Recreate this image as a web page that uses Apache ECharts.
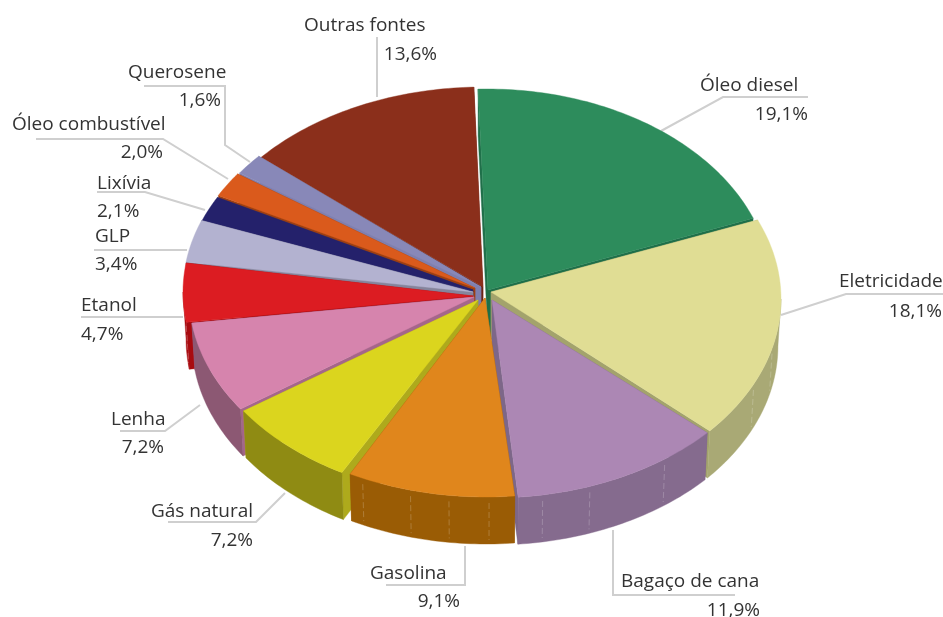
<!DOCTYPE html>
<html lang="pt">
<head>
<meta charset="utf-8">
<script src="https://cdn.jsdelivr.net/npm/echarts@6/dist/echarts.min.js"></script>
<style>html,body{margin:0;background:#fff}#chart{width:943px;height:617px}</style>
</head>
<body>
<div id="chart"></div>
<script>
// Matriz energética: fatia por fonte, em sentido horário a partir do topo
const sources = ['Óleo diesel', 'Eletricidade', 'Bagaço de cana', 'Gasolina', 'Gás natural', 'Lenha',
  'Etanol', 'GLP', 'Lixívia', 'Óleo combustível', 'Querosene', 'Outras fontes'];
const shares = [19.1, 18.1, 11.9, 9.1, 7.2, 7.2, 4.7, 3.4, 2.1, 2.0, 1.6, 13.6];

const topColors = ['#2d8c5c', '#e0dd94', '#ac87b4', '#e0861c', '#dbd51e', '#d684ad',
  '#dc1c22', '#b3b2d0', '#24216b', '#da5a1c', '#8888b8', '#8b2f1b'];
const wallColors = ['#1f6642', '#a9a975', '#856b8e', '#9a5c05', '#8f8b13', '#8c5873',
  '#a80b10', '#85849c', '#16144a', '#9c3f12', '#5f5f86', '#5f1f10'];
const cutColors = ['#1f6f49', '#a3a36c', '#7d6788', '#9a5c05', '#aeaa1c', '#a5668a',
  '#a80b10', '#85849c', '#2a2870', '#9c3f12', '#7f7fae', '#6b2414'];

// Geometria de cada fatia: deslocamento do contorno, ponta e correção angular da perspectiva
const rimShift = [[3, -3], [7, 6], [8, 4], [2, 3], [0, 4], [-3, 2], [-9, -1], [-9, -2], [-9, -1], [-8, -3], [-6, -4], [-1, -5]];
const tips = [[488, 290], [491, 292], [492, 300], [485, 298], [478, 300], [474, 297],
  [473, 296], [473, 292], [473, 290], [475, 288], [481, 287], [483, 287]];
const twist = [[-1.8, 0.3], [-1.9, -2.9], [-1.4, -1.9], [-2.4, -1.8], [-0.4, 0], [0, 0.6],
  [0, 0], [0, 0], [0, 0], [0, 0], [0, 0.3], [-0.5, -1.8]];
const radiusX = [285, 290, 292, 292, 292, 292, 292, 292, 292, 292, 292, 292];

const pie = { cx: 484, cy: 293, ry: 201, depth: 47, taper: 0.065 };

// Emendas claras na parede lateral (graus no contorno)
const wallSeams = [104, 115, 143.7, 160.4, 170, 179.4, 187.3, 195, 205, 262];

// Posição de nome, valor e linha de chamada de cada rótulo
const labels = [
  { name: [700, 86, 'left'], value: [808, 115, 'right'], line: [[661, 131], [723, 97], [808, 97]] },
  { name: [839, 282, 'left'], value: [942, 312, 'right'], line: [[781, 315], [846, 294], [943, 294]] },
  { name: [621, 582, 'left'], value: [760, 611, 'right'], line: [[613, 530], [613, 595], [735, 595]] },
  { name: [370, 574, 'left'], value: [460, 602, 'right'], line: [[465, 546], [465, 585], [386, 585]] },
  { name: [151, 512, 'left'], value: [253, 541, 'right'], line: [[285, 493], [256, 522], [168, 522]] },
  { name: [111, 420, 'left'], value: [164, 448, 'right'], line: [[200, 405], [165, 431], [120, 431]] },
  { name: [81, 306, 'left'], value: [81, 335, 'left'], line: [[183, 317], [81, 317]] },
  { name: [95, 237, 'left'], value: [95, 265, 'left'], line: [[187, 250], [94, 250]] },
  { name: [97, 184, 'left'], value: [97, 212, 'left'], line: [[205, 210], [145, 192], [97, 192]] },
  { name: [12, 125, 'left'], value: [163, 153, 'right'], line: [[228, 179], [163, 139], [36, 139]] },
  { name: [128, 73, 'left'], value: [221, 101, 'right'], line: [[250, 162], [225, 145], [225, 86], [144, 86]] },
  { name: [304, 26, 'left'], value: [437, 55, 'right'], line: [[377, 97], [377, 37]] }
];

const total = shares.reduce((a, b) => a + b, 0);
const DEG = Math.PI / 180;
const fmt = v => v.toFixed(1).replace('.', ',') + '%';

function rim(i, t, drop) {
  const o = rimShift[i];
  const rx = radiusX[i] - drop * pie.taper;
  return [pie.cx + o[0] + rx * Math.sin(t * DEG), pie.cy + o[1] + drop - pie.ry * Math.cos(t * DEG)];
}
function arc(i, a, b, drop) {
  const pts = [];
  const n = Math.max(2, Math.ceil(Math.abs(b - a)));
  for (let k = 0; k <= n; k++) pts.push(rim(i, a + (b - a) * k / n, drop));
  return pts;
}
function poly(points, fill, z2) {
  return { type: 'polygon', z2, shape: { points }, style: { fill, stroke: fill, lineWidth: 0.4 }, silent: true };
}
function text(spec, str) {
  return {
    type: 'text', z2: 200, silent: true,
    style: { x: spec[0], y: spec[1], text: str, align: spec[2], verticalAlign: 'middle',
      fill: '#333', font: '19px "Open Sans"' }
  };
}

const before = i => shares.slice(0, i).reduce((a, b) => a + b, 0);
const midAngle = i => (before(i) + shares[i] / 2) / total * 360;

// As fatias de trás são pintadas primeiro
const depthRank = shares.map((_, i) => i)
  .sort((a, b) => Math.cos(midAngle(b) * DEG) - Math.cos(midAngle(a) * DEG));

function renderSlice(params, api) {
  const i = api.value(0);
  const value = api.value(1);
  const a = before(i) / total * 360 + twist[i][0];
  const b = a - twist[i][0] + value / total * 360 + twist[i][1];
  const z = 10 + depthRank.indexOf(i) * 3;
  const tip = tips[i];
  const tipLow = [tip[0], tip[1] + pie.depth];
  const children = [];

  // Faces de corte
  [a, b].forEach(t => {
    children.push(poly([tip, rim(i, t, 0), rim(i, t, pie.depth), tipLow], cutColors[i], z));
  });
  // Parede externa: só a metade inferior do contorno fica visível
  const wa = Math.max(a, 90);
  const wb = Math.min(b, 270);
  if (wb > wa) {
    children.push(poly(arc(i, wa, wb, 0).concat(arc(i, wb, wa, pie.depth)), wallColors[i], z + 1));
    wallSeams.filter(t => t > wa + 0.5 && t < wb - 0.5).forEach(t => {
      const p = rim(i, t, 6);
      const q = rim(i, t, pie.depth - 4);
      children.push({
        type: 'line', z2: z + 1, silent: true,
        shape: { x1: p[0], y1: p[1], x2: q[0], y2: q[1] },
        style: { stroke: 'rgba(255,255,255,0.2)', lineWidth: 1, lineDash: [6, 3] }
      });
    });
  }
  // Face superior
  children.push(poly([tip].concat(arc(i, a, b, 0)), topColors[i], z + 2));

  // Linha de chamada e textos
  const lab = labels[i];
  children.push({ type: 'polyline', z2: 1, shape: { points: lab.line }, style: { fill: null, stroke: '#cfcfcf', lineWidth: 2 }, silent: true });
  children.push(text(lab.name, sources[i]));
  children.push(text(lab.value, fmt(value)));
  return { type: 'group', children };
}

const chart = echarts.init(document.getElementById('chart'), null, { renderer: 'canvas' });
chart.setOption({
  animation: false,
  backgroundColor: '#fff',
  series: [{
    type: 'custom',
    coordinateSystem: 'none',
    renderItem: renderSlice,
    data: shares.map((v, i) => [i, v])
  }]
});
</script>
</body>
</html>
